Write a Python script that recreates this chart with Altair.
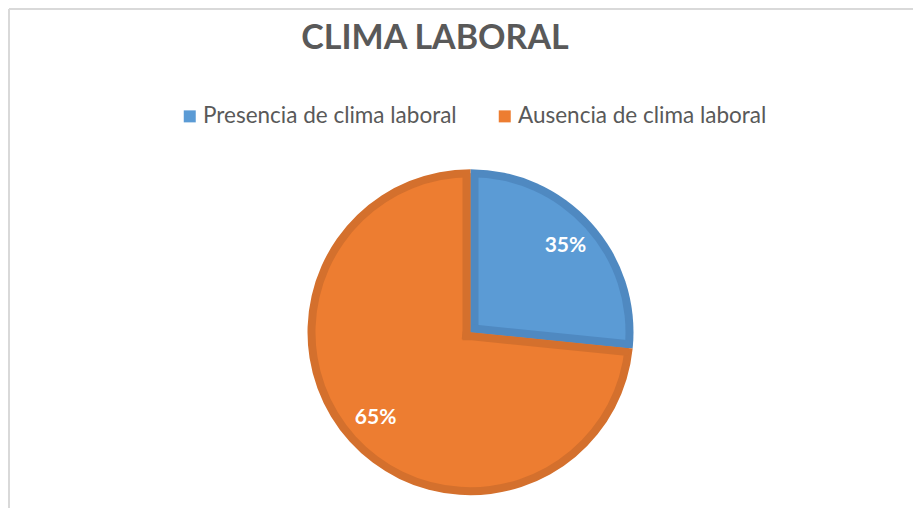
import altair as alt
import pandas as pd

# ---- data ----
categories = ["Presencia de clima laboral", "Ausencia de clima laboral"]
values = [26.6, 73.4]          # slice sizes as drawn
labels = ["35%", "65%"]        # labels as printed on the slices
order = [1, 2]
title_text = "CLIMA LABORAL"

# ---- styles ----
light_colors = ["#5B9BD5", "#ED7D31"]
dark_colors = ["#4F89C1", "#D4702D"]
TEXT_GREY = "#595959"
FONT = "Lato"

W, H = 905, 500
CX, CY, R = 461.5, 323.2, 163
BAND = 8
LABEL_R = 128

df = pd.DataFrame({"category": categories, "value": values,
                   "label": labels, "order": order})
base = alt.Chart(df)

theta = alt.Theta("value:Q", stack=True)
ordr = alt.Order("order:Q")
light_scale = alt.Scale(domain=categories, range=light_colors)
dark_scale = alt.Scale(domain=categories, range=dark_colors)

dark_arcs = base.mark_arc(radius=R).encode(
    theta=theta, order=ordr,
    color=alt.Color("category:N", scale=dark_scale, legend=None),
    x=alt.value(CX), y=alt.value(CY),
)

light_arcs = base.mark_arc(radius=R - BAND).encode(
    theta=theta, order=ordr,
    color=alt.Color(
        "category:N", scale=light_scale, sort=categories,
        legend=alt.Legend(
            orient="none", legendX=169.5, legendY=96, direction="horizontal",
            title=None, symbolType="square", symbolSize=144,
            symbolStrokeWidth=0, labelFont=FONT, labelFontSize=22.5,
            labelColor=TEXT_GREY, labelOffset=2, columnPadding=36,
            padding=0, labelLimit=0,
        ),
    ),
    x=alt.value(CX), y=alt.value(CY),
)

geo = (
    base.transform_joinaggregate(total="sum(value)")
    .transform_window(cum="sum(value)", sort=[alt.SortField("order")],
                      frame=[None, 0])
    .transform_calculate(
        a1="2*PI*datum.cum/datum.total",
        a0="2*PI*(datum.cum-datum.value)/datum.total",
    )
    .transform_calculate(span="datum.a1-datum.a0",
                         mid="(datum.a0+datum.a1)/2")
)

# darker inner band along the radial edges of each slice
edges = (
    geo.transform_fold(["a0", "a1"], as_=["edge", "ang"])
    .transform_calculate(
        s="datum.edge == 'a0' ? 1 : -1",
        back=f"datum.span > PI ? {-BAND} : 0",
    )
    .transform_calculate(
        ox=f"{BAND / 2}*datum.s*cos(datum.ang)",
        oy=f"{BAND / 2}*datum.s*sin(datum.ang)",
    )
    .transform_calculate(
        xs=f"{CX} + datum.ox + datum.back*sin(datum.ang)",
        ys=f"{CY} + datum.oy - datum.back*cos(datum.ang)",
        xe=f"{CX} + datum.ox + {R - BAND / 2}*sin(datum.ang)",
        ye=f"{CY} + datum.oy - {R - BAND / 2}*cos(datum.ang)",
    )
    .mark_rule(strokeWidth=BAND, strokeCap="butt")
    .encode(
        x=alt.X("xs:Q", scale=None, axis=None),
        y=alt.Y("ys:Q", scale=None, axis=None),
        x2="xe:Q", y2="ye:Q",
        color=alt.Color("category:N", scale=dark_scale, legend=None),
    )
)

slice_labels = (
    geo.transform_calculate(
        tx=f"{CX} + {LABEL_R}*sin(datum.mid)",
        ty=f"{CY} - {LABEL_R}*cos(datum.mid)",
    )
    .mark_text(font=FONT, fontSize=21, fontWeight="bold", color="white",
               align="center", baseline="middle")
    .encode(x=alt.X("tx:Q", scale=None, axis=None),
            y=alt.Y("ty:Q", scale=None, axis=None),
            text="label:N")
)

title = alt.Chart(pd.DataFrame({"t": [title_text]})).mark_text(
    font=FONT, fontSize=34, fontWeight="bold", color=TEXT_GREY,
    align="center", baseline="alphabetic",
).encode(x=alt.value(426), y=alt.value(40), text="t:N")

one = pd.DataFrame({"a": [0]})
top_border = alt.Chart(one).mark_rule(color="#D9D9D9", strokeWidth=2).encode(
    x=alt.value(0), x2=alt.value(W), y=alt.value(0))
left_border = alt.Chart(one).mark_rule(color="#D9D9D9", strokeWidth=2).encode(
    x=alt.value(0), y=alt.value(0), y2=alt.value(H))

chart = (
    alt.layer(dark_arcs, light_arcs, edges, slice_labels, title,
              top_border, left_border)
    .resolve_scale(color="independent")
    .properties(width=W, height=H, padding=0, background="white",
                autosize=alt.AutoSizeParams(type="fit", contains="padding"))
    .configure_view(strokeWidth=0)
)

chart.save("out.html", embed_options={"renderer": "svg", "actions": False})
